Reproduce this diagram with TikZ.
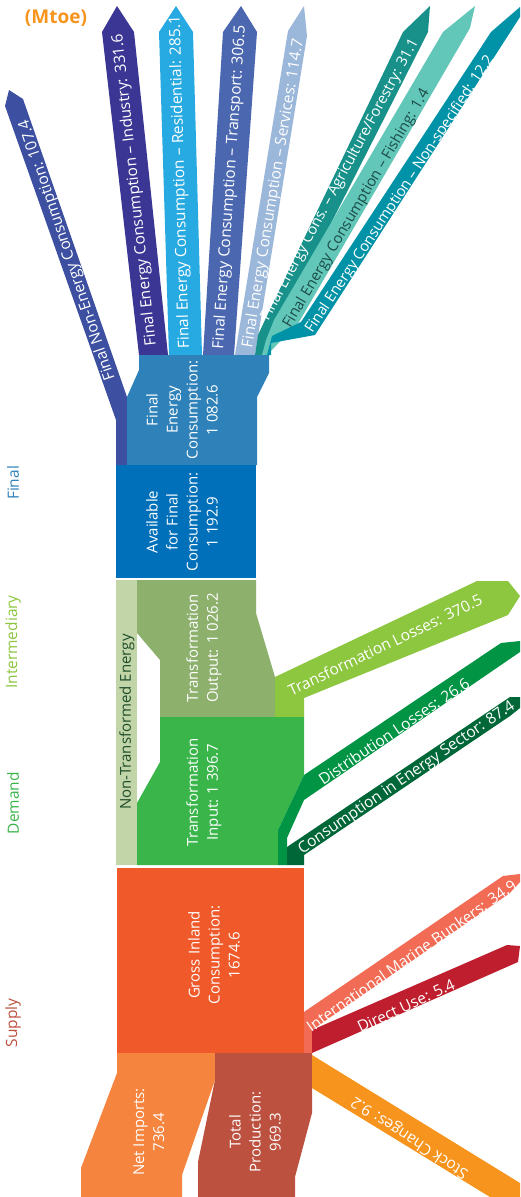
\documentclass[tikz,border=0pt]{standalone}
\usepackage{fontspec}
\setmainfont{Open Sans}
\usepackage{xcolor}
\definecolor{cNonEnergy}{HTML}{3C4FA0}
\definecolor{cIndustry}{HTML}{3B3594}
\definecolor{cResidential}{HTML}{27AAE1}
\definecolor{cTransport}{HTML}{4B67B0}
\definecolor{cServices}{HTML}{9BB7D9}
\definecolor{cAgri}{HTML}{17918A}
\definecolor{cFishing}{HTML}{62C6B9}
\definecolor{cNonSpec}{HTML}{0093A7}
\definecolor{cFinal}{HTML}{2E82B9}
\definecolor{cAvail}{HTML}{0070BA}
\definecolor{cNonTrans}{HTML}{C2D5A8}
\definecolor{cOutput}{HTML}{8DB06D}
\definecolor{cTLoss}{HTML}{8DC63F}
\definecolor{cInput}{HTML}{39B54A}
\definecolor{cDLoss}{HTML}{009444}
\definecolor{cSector}{HTML}{006838}
\definecolor{cGross}{HTML}{F05A2B}
\definecolor{cBunkers}{HTML}{F26C55}
\definecolor{cDirect}{HTML}{BE1E2D}
\definecolor{cImports}{HTML}{F4843E}
\definecolor{cProd}{HTML}{BC5140}
\definecolor{cStock}{HTML}{F7941D}
\definecolor{cFishText}{HTML}{1B4D47}
\definecolor{cNonTransText}{HTML}{1E4D2B}

\begin{document}
\begin{tikzpicture}[
        x = 1pt, y = -1pt, % pixel grid, y going down
        flow/.style = {font=\fontsize{15.5}{18}\selectfont, text=white, inner sep=0pt, anchor=west},
        flowsm/.style = {flow, font=\fontsize{14.8}{17}\selectfont},
        block/.style = {font=\fontsize{15}{20}\selectfont, text=white, inner sep=0pt, align=center, rotate=90},
        stage/.style = {font=\fontsize{15.5}{18}\selectfont, inner sep=0pt, rotate=90}
    ]

    \useasboundingbox[fill=white] (0,0) rectangle (520,1197);

    % final consumption fan
    \fill[cNonEnergy] (116,465) -- (116,420) -- (5,106) -- (9,90) -- (23,99) -- (127,397) -- (127,465) -- cycle;
    \fill[cIndustry] (139,355) -- (168,355) -- (134,32) -- (117,6) -- (102,32) -- cycle;
    \fill[cResidential] (169,355) -- (202,355) -- (193,32) -- (176,6) -- (159,32) -- cycle;
    \fill[cTransport] (203,355) -- (234,355) -- (257,32) -- (241,6) -- (223,32) -- cycle;
    \fill[cServices] (235,355) -- (255,355) -- (307,36) -- (304,6) -- (288,31) -- cycle;
    \fill[cAgri] (255,355) -- (262,355) -- (282,320) -- (428,32) -- (430,6) -- (403,32) -- (265,320) -- (258,335) -- cycle;
    \fill[cFishing] (262,355) -- (267,355) -- (299,322) -- (470,28) -- (475,6) -- (443,32) -- (274,320) -- (266,340) -- cycle;
    \fill[cNonSpec] (267,355) -- (271,355) -- (271,343) -- (315,335) -- (520,17) -- (520,7) -- (491,32) -- (301,322) -- (272,336) -- cycle;
    \fill[cFinal] (139,355) -- (269,355) -- (269,373) -- (257,397) -- (257,465) -- (127,465) -- (127,397) -- (139,370) -- cycle;
    \fill[cAvail] (116,465) rectangle (256,578);

    % intermediary and demand
    \fill[cNonTrans] (116,580) rectangle (137,865);
    \fill[cOutput] (137,580) -- (256,580) -- (256,613) -- (275,677) -- (275,717) -- (160,717) -- (160,660) -- (137,633) -- cycle;
    \fill[cTLoss] (275,717) -- (275,677) -- (477,581) -- (508,581) -- (520,596) -- (508,615) -- (304,698) -- (304,717) -- cycle;
    \fill[cInput] (160,717) -- (304,717) -- (304,775) -- (278,830) -- (278,865) -- (137,865) -- (137,803) -- (160,762) -- cycle;
    \fill[cDLoss] (278,865) -- (278,830) -- (304,775) -- (501,643) -- (520,641) -- (520,652) -- (304,800) -- (287,838) -- (287,865) -- cycle;
    \fill[cSector] (287,865) -- (287,847) -- (510,697) -- (520,697) -- (520,708) -- (510,716) -- (304,855) -- (304,865) -- cycle;

    % supply
    \fill[cGross] (117,868) rectangle (304,1053);
    \fill[cBunkers] (304,1053) -- (304,1012) -- (503,876) -- (520,874) -- (520,882) -- (510,893) -- (312,1030) -- (312,1053) -- cycle;
    \fill[cDirect] (312,1053) -- (312,1030) -- (507,945) -- (520,946) -- (518,962) -- cycle;
    \fill[cImports] (117,1053) -- (215,1053) -- (215,1080) -- (182,1175) -- (182,1197) -- (81,1197) -- (81,1168) -- (117,1073) -- cycle;
    \fill[cProd] (215,1053) -- (312,1053) -- (312,1113) -- (295,1177) -- (295,1197) -- (198,1197) -- (198,1162) -- (215,1080) -- cycle;
    \fill[cStock] (312,1055) -- (520,1183) -- (520,1197) -- (490,1197) -- (312,1088) -- cycle;

    % labels
    \node[font=\fontsize{19}{22}\selectfont\bfseries, text=cStock, inner sep=0pt] (unit) at (56,18) {(Mtoe)};
    \node[stage, text=cFinal] (sFinal) at (13,483) {Final};
    \node[stage, text=cTLoss] (sInter) at (13,642) {Intermediary};
    \node[stage, text=cInput] (sDemand) at (13,803) {Demand};
    \node[stage, text=cProd] (sSupply) at (13,1023) {Supply};

    \node[flow, rotate=108.5] (lNonEnergy) at (111,380) {Final Non-Energy Consumption: 107.4};
    \node[flow, rotate=96.2] (lIndustry) at (152,346) {Final Energy Consumption – Industry: 331.6};
    \node[flow, rotate=91.6] (lResidential) at (185,349) {Final Energy Consumption – Residential: 285.1};
    \node[flow, rotate=86.1] (lTransport) at (219,349) {Final Energy Consumption – Transport: 306.5};
    \node[flow, rotate=80.6] (lServices) at (248,348) {Final Energy Consumption – Services: 114.7};
    \node[flowsm, rotate=61.8] (lAgri) at (265,320) {Final Energy Cons. – Agriculture/Forestry: 31.1};
    \node[flowsm, rotate=59.5, text=cFishText] (lFishing) at (287,327) {Final Energy Consumption – Fishing: 1.4};
    \node[flowsm, rotate=56.5] (lNonSpec) at (309,332) {Final Energy Consumption – Non-specified: 12.2};

    \node[block] (bFinal) at (182,410) {Final\\Energy\\Consumption:\\1 082.6};
    \node[block] (bAvail) at (182,522) {Available\\for Final\\Consumption:\\1 192.9};
    \node[block, text=cNonTransText] (bNonTrans) at (127,722) {Non-Transformed Energy};
    \node[block] (bOutput) at (204,648) {Transformation\\Output: 1 026.2};
    \node[block] (bInput) at (204,792) {Transformation\\Input: 1 396.7};
    \node[block] (bGross) at (214,955) {Gross Inland\\Consumption:\\1674.6};
    \node[block] (bImports) at (149,1132) {Net Imports:\\736.4};
    \node[block] (bProd) at (255,1132) {Total\\Production:\\969.3};

    \node[flow, rotate=25.7] (lTLoss) at (289,691) {Transformation Losses: 370.5};
    \node[flow, rotate=34] (lDLoss) at (320,781) {Distribution Losses: 26.6};
    \node[flow, rotate=34.4] (lSector) at (300,851) {Consumption in Energy Sector: 87.4};
    \node[flow, rotate=35] (lBunkers) at (308,1028) {International Marine Bunkers: 34.9};
    \node[flow, rotate=25] (lDirect) at (358,1028) {Direct Use: 5.4};
    \node[flow, rotate=146.7] (lStock) at (467,1175) {Stock Changes: 9.2};
\end{tikzpicture}
\end{document}
